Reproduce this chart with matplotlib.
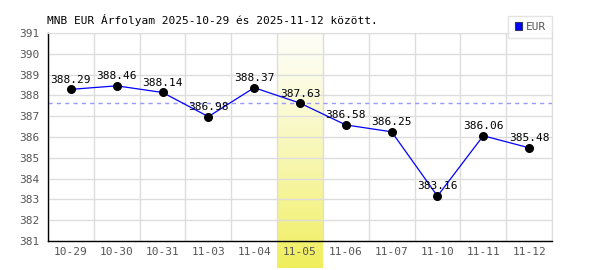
import numpy as np
import matplotlib
matplotlib.use("Agg")
import matplotlib.pyplot as plt

datumok = ['10-29', '10-30', '10-31', '11-03', '11-04', '11-05',
           '11-06', '11-07', '11-10', '11-11', '11-12']
arfolyam = [388.29, 388.46, 388.14, 386.98, 388.37, 387.63,
            386.58, 386.25, 383.16, 386.06, 385.48]
kiemelt = 5
y_ticks = list(range(381, 392))

plt.rcParams['font.family'] = 'DejaVu Sans Mono'

fig = plt.figure(figsize=(6, 2.7), dpi=100)
ax = fig.add_axes([48 / 600, 29 / 270, 504 / 600, 208 / 270])

x = np.arange(len(datumok))
ax.set_xlim(-0.5, len(datumok) - 0.5)

# kiemelt nap sarga savja
grad = np.linspace(0, 1, 100).reshape(-1, 1) ** 1.3
cmap = matplotlib.colors.LinearSegmentedColormap.from_list('s', ['#fefef6', '#f0ee5c'])
ax.imshow(grad, cmap=cmap, aspect='auto', origin='upper',
          extent=[kiemelt - 0.5, kiemelt + 0.5, 379.7, 391],
          clip_on=False, zorder=0)
ax.set_ylim(381, 391)

for b in np.arange(-0.5, len(datumok), 1.0):
    ax.axvline(b, color='#dddddd', lw=1, zorder=1)
for t in y_ticks:
    ax.axhline(t, color='#dddddd', lw=1, zorder=1)

ax.axhline(arfolyam[kiemelt], color='#9999ff', lw=1, ls=(0, (3, 3)), zorder=2)

ax.plot(x, arfolyam, color='#0000ff', lw=0.9, zorder=3, label='EUR')
ax.scatter(x, arfolyam, s=30, color='black', zorder=4)
for xi, v in zip(x, arfolyam):
    ax.text(xi, v + 0.22, f'{v:.2f}', ha='center', va='bottom',
            fontsize=8, color='black', zorder=5)

ax.set_xticks(x)
ax.set_xticklabels(datumok)
ax.set_yticks(y_ticks)
ax.tick_params(axis='both', labelsize=8, colors='#555555', length=0, pad=4)
ax.tick_params(axis='y', pad=6)

for s in ['top', 'right']:
    ax.spines[s].set_color('#dddddd')
for s in ['left', 'bottom']:
    ax.spines[s].set_color('black')
    ax.spines[s].set_linewidth(1)

fig.text(47 / 600, 1 - 20 / 270, 'MNB EUR Árfolyam 2025-10-29 és 2025-11-12 között.',
         fontsize=8, ha='left', va='center', color='black')

h = matplotlib.patches.Patch(facecolor='#0000ff', edgecolor='#333366', lw=0.8)
leg = fig.legend([h], ['EUR'], loc='upper right', bbox_to_anchor=(552 / 600, 1 - 16 / 270),
                 fontsize=8, frameon=True, fancybox=False, handlelength=0.7,
                 handleheight=0.7, handletextpad=0.3, borderpad=0.55, borderaxespad=0)
leg.get_frame().set_edgecolor('#dddddd')
leg.get_frame().set_linewidth(1)
for t in leg.get_texts():
    t.set_color('#555555')

fig.savefig('out.png', dpi=100)
